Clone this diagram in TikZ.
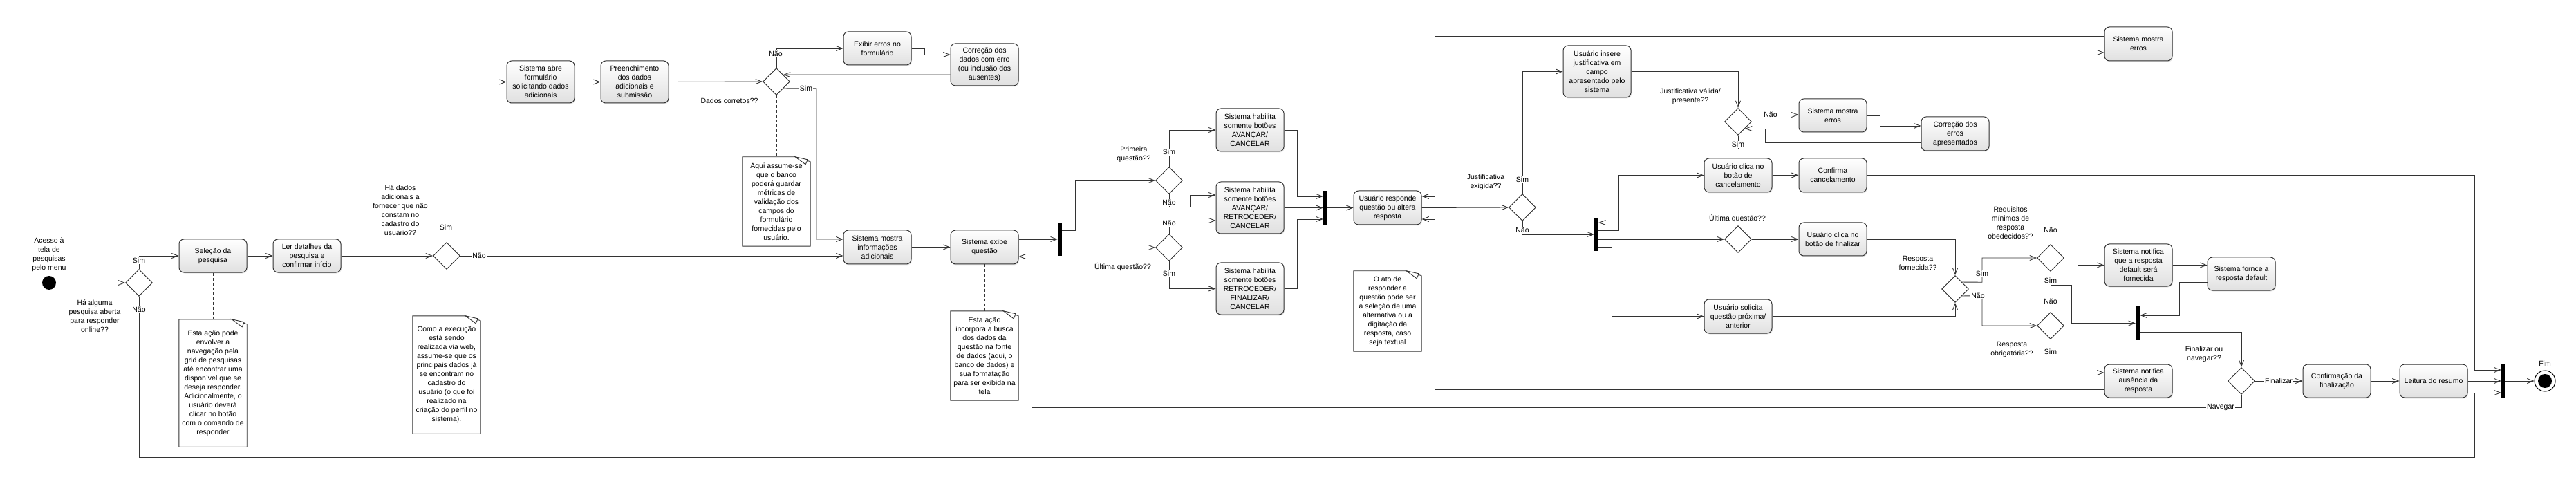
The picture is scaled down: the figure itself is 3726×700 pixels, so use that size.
\documentclass[tikz,border=0pt]{standalone}
\usepackage{fontspec}
\setmainfont{Liberation Sans}
\usetikzlibrary{arrows.meta,shapes.geometric,shadows}
\newcommand\mynote[1]{%
  \draw[notec] (#1.north west) -- ([xshift=-22pt]#1.north east) -- ([yshift=-7pt]#1.north east) -- (#1.south east) -- (#1.south west) -- cycle;
  \draw[notec,fill=white] ([xshift=-22pt]#1.north east) -- ([xshift=-4pt,yshift=-4pt]#1.north east) -- ([xshift=-7pt,yshift=-11pt]#1.north east) -- cycle;}
\begin{document}
\begin{tikzpicture}[x=1pt,y=-1pt,
  every node/.style={font=\fontsize{10.5}{13}\selectfont},
  act/.style={draw=black!80, line width=1pt, rounded corners=7pt, top color=white, bottom color=black!12, minimum width=98pt, minimum height=48pt, inner sep=1pt, align=center, drop shadow={opacity=0.18,shadow xshift=1pt,shadow yshift=-1.5pt}},
  dec/.style={diamond, draw=black!85, line width=0.9pt, fill=white, minimum width=39pt, minimum height=39pt, inner sep=0pt},
  bar/.style={fill=black, draw=none, minimum width=6pt, minimum height=48pt, inner sep=0pt},
  notebox/.style={draw=none, minimum width=98pt, inner sep=0pt, align=center},
  notec/.style={draw=black!80, line width=0.9pt},
  arr/.style={draw=black!80, line width=0.9pt, -{Straight Barb[length=9pt,width=7pt]}},
  dsh/.style={draw=black!80, line width=0.8pt, dash pattern=on 4pt off 3pt},
  lbl/.style={fill=white, inner sep=1pt, align=center},
  txt/.style={inner sep=0pt, align=center},
]
\useasboundingbox (0,0) rectangle (3726,700);

% ---------- start / end ----------
\node[circle, fill=black, minimum size=20pt, inner sep=0pt] (start) at (71,409) {};
\node[circle, draw=black, line width=1pt, fill=white, minimum size=30pt, inner sep=0pt] (fim) at (3681,551) {};
\node[circle, fill=black, minimum size=20pt, inner sep=0pt] (fimin) at (fim.center) {};

% ---------- activities ----------
\node[act] (sel) at (308,370) {Seleção da\\pesquisa};
\node[act] (ler) at (444,370) {Ler detalhes da\\pesquisa e\\confirmar início};
\node[act, minimum height=61pt] (abre) at (782,118.5) {Sistema abre\\formulário\\solicitando dados\\adicionais};
\node[act, minimum height=61pt] (pre) at (918,118.5) {Preenchimento\\dos dados\\adicionais e\\submissão};
\node[act] (exib) at (1269,70) {Exibir erros no\\formulário};
\node[act, minimum height=61pt] (corr) at (1424,93.5) {Correção dos\\dados com erro\\(ou inclusão dos\\ausentes)};
\node[act, minimum height=49pt] (info) at (1269,357.5) {Sistema mostra\\informações\\adicionais};
\node[act, minimum height=49pt] (exq) at (1424,357.5) {Sistema exibe\\questão};
\node[act, minimum height=62pt] (hA) at (1808,188) {Sistema habilita\\somente botões\\AVANÇAR/\\CANCELAR};
\node[act, minimum height=75pt] (hB) at (1808,300.5) {Sistema habilita\\somente botões\\AVANÇAR/\\RETROCEDER/\\CANCELAR};
\node[act, minimum height=75pt] (hC) at (1808,417.5) {Sistema habilita\\somente botões\\RETROCEDER/\\FINALIZAR/\\CANCELAR};
\node[act, minimum height=49pt] (resp) at (2007,300.5) {Usuário responde\\questão ou altera\\resposta};
\node[act, minimum height=75pt] (just) at (2310,103.5) {Usuário insere\\justificativa em\\campo\\apresentado pelo\\sistema};
\node[act] (err2) at (2651,167) {Sistema mostra\\erros};
\node[act, minimum height=49pt] (corr2) at (2828,193.5) {Correção dos\\erros\\apresentados};
\node[act, minimum height=49pt] (canc) at (2514,253.5) {Usuário clica no\\botão de\\cancelamento};
\node[act, minimum height=49pt] (conf) at (2651,253.5) {Confirma\\cancelamento};
\node[act] (fin) at (2651,346) {Usuário clica no\\botão de finalizar};
\node[act, minimum height=49pt] (sol) at (2514,457.5) {Usuário solicita\\questão próxima/\\anterior};
\node[act, minimum height=49pt] (err3) at (3093,63.5) {Sistema mostra\\erros};
\node[act, minimum height=61pt] (nd) at (3093,383.5) {Sistema notifica\\que a resposta\\default será\\fornecida};
\node[act] (na) at (3093,551) {Sistema notifica\\ausência da\\resposta};
\node[act] (fd) at (3242,396) {Sistema fornce a\\resposta default};
\node[act] (cf) at (3380,551) {Confirmação da\\finalização};
\node[act] (lr) at (3520,551) {Leitura do resumo};

% ---------- decisions ----------
\node[dec] (d1) at (201,409) {};
\node[dec] (d2) at (646,370) {};
\node[dec] (d3) at (1123,118) {};
\node[dec] (dPQ) at (1691,261) {};
\node[dec] (dUQ) at (1691,358) {};
\node[dec] (dJE) at (2202,300) {};
\node[dec] (dJV) at (2514,176) {};
\node[dec] (dUQ2) at (2514,346) {};
\node[dec] (dRF) at (2828,418) {};
\node[dec] (dRM) at (2966,373) {};
\node[dec] (dRO) at (2966,471) {};
\node[dec] (dFN) at (3242,551) {};

% ---------- bars ----------
\node[bar] (b1) at (1533,346) {};
\node[bar, minimum height=49pt] (b2) at (1917,300.5) {};
\node[bar] (b3) at (2309,339) {};
\node[bar, minimum height=49pt] (b4) at (3092,467.5) {};
\node[bar] (b5) at (3621,551) {};

% ---------- notes ----------
\node[notebox, minimum height=184pt] (n1) at (308,554) {Esta ação pode\\envolver a\\navegação pela\\grid de pesquisas\\até encontrar uma\\disponível que se\\deseja responder.\\Adicionalmente, o\\usuário deverá\\clicar no botão\\com o comando de\\responder};
\node[notebox, minimum height=170pt] (n2) at (646,542) {Como a execução\\está sendo\\realizada via web,\\assume-se que os\\principais dados já\\se encontram no\\cadastro do\\usuário (o que foi\\realizado na\\criação do perfil no\\sistema).};
\node[notebox, minimum height=129pt] (n3) at (1123,291.5) {Aqui assume-se\\que o banco\\poderá guardar\\métricas de\\validação dos\\campos do\\formulário\\fornecidas pelo\\usuário.};
\node[notebox, minimum height=129pt] (n4) at (1424,514.5) {Esta ação\\incorpora a busca\\dos dados da\\questão na fonte\\de dados (aqui, o\\banco de dados) e\\sua formatação\\para ser exibida na\\tela};
\node[notebox, minimum height=116pt] (n5) at (2007,450) {O ato de\\responder a\\questão pode ser\\a seleção de uma\\alternativa ou a\\digitação da\\resposta, caso\\seja textual};
\mynote{n1}\mynote{n2}\mynote{n3}\mynote{n4}\mynote{n5}
\draw[dsh] (sel.south) -- (n1.north);
\draw[dsh] (d2.south) -- (n2.north);
\draw[dsh] (d3.south) -- (n3.north);
\draw[dsh] (exq.south) -- (n4.north);
\draw[dsh] (resp.south) -- (n5.north);

% ---------- free texts ----------
\node[txt] at (71,368) {Acesso à\\tela de\\pesquisas\\pelo menu};
\node[txt] at (137,457) {Há alguma\\pesquisa aberta\\para responder\\online??};
\node[txt] at (579,304) {Há dados\\adicionais a\\fornecer que não\\constam no\\cadastro do\\usuário??};
\node[txt] at (1055,146) {Dados corretos??};
\node[txt] at (1640,223) {Primeira\\questão??};
\node[txt] at (1624,386) {Última questão??};
\node[txt] at (2149,263) {Justificativa\\exigida??};
\node[txt] at (2445,139) {Justificativa válida/\\presente??};
\node[txt] at (2513,316) {Última questão??};
\node[txt] at (2774,380) {Resposta\\fornecida??};
\node[txt] at (2908,322) {Requisitos\\mínimos de\\resposta\\obedecidos??};
\node[txt] at (2910,505) {Resposta\\obrigatória??};
\node[txt] at (3188,512) {Finalizar ou\\navegar??};
\node[txt] at (3681,526) {Fim};

% ---------- connectors ----------
\draw[arr] (start) -- (d1.west);
\draw[arr] (d1.north) |- (sel.west);
\draw[arr] (d1.south) |- (3579,661) |- ([yshift=-17pt]b5.west);
\draw[arr] (sel.east) -- (ler.west);
\draw[arr] (ler.east) -- (d2.west);
\draw[arr] (d2.north) |- (abre.west);
\draw[arr] (d2.east) -- (d2.east -| info.west);
\draw[arr] (abre.east) -- (pre.west);
\draw[arr] (pre.east) -- (d3.west);
\draw[arr] (d3.north) |- (exib.west);
\draw[arr] (d3.south east) -- (1181,127.75) |- ([yshift=11.5pt]info.west);
\draw[arr] (exib.east) -- (1337,70) |- ([yshift=14.5pt]corr.west);
\draw[arr] ([yshift=-14.5pt]corr.west) -- (d3.north east);
\draw[arr] (info.east) -- (exq.west);
\draw[arr] ([yshift=11.5pt]exq.east) -- (b1.west);
\draw[arr] (dFN.south) |- (1492,589) |- ([yshift=-13.5pt]exq.east);
\draw[arr] ([yshift=13pt]b1.east) -- (1555,333) |- (dPQ.west);
\draw[arr] ([yshift=-12pt]b1.east) -- (dUQ.west);
\draw[arr] (dPQ.north) |- (hA.west);
\draw[arr] (dPQ.south) -- (1691,299) -- (1721,299) |- ([yshift=18.5pt]hB.west);
\draw[arr] (dUQ.north) |- ([yshift=-18.5pt]hB.west);
\draw[arr] (dUQ.south) |- (hC.west);
\draw[arr] (hA.east) -- (1876,188) |- ([yshift=16.5pt]b2.west);
\draw[arr] (hB.east) -- (b2.west);
\draw[arr] (hC.east) -- (1876,417.5) |- ([yshift=-16.5pt]b2.west);
\draw[arr] (b2.east) -- (resp.west);
\draw[arr] (resp.east) -- (dJE.west);
\draw[arr] ([yshift=11.5pt]err3.west) -- (2075,52) |- ([yshift=16.5pt]resp.east);
\draw[arr] ([yshift=-12pt]na.west) -- (2075,563) |- ([yshift=-16.5pt]resp.east);
\draw[arr] (dJE.north) |- (just.west);
\draw[arr] (dJE.south) |- (b3.west);
\draw[arr] (just.east) -| (dJV.north);
\draw[arr] (dJV.north east) -- (dJV.north east -| err2.west);
\draw[arr] (err2.east) -- (2719,167) |- ([yshift=11.5pt]corr2.west);
\draw[arr] ([yshift=-12.5pt]corr2.west) -- (2553,206) |- (dJV.south east);
\draw[arr] (dJV.south) -- (2514,215) -- (2331,215) |- ([yshift=17pt]b3.east);
\draw[arr] ([yshift=6pt]b3.east) -- (2341,333) |- (canc.west);
\draw[arr] ([yshift=-7pt]b3.east) -- (dUQ2.west);
\draw[arr] ([yshift=-18pt]b3.east) -- (2331,357) |- (sol.west);
\draw[arr] (canc.east) -- (conf.west);
\draw[arr] (conf.east) -- (3579,253.5) |- ([yshift=16pt]b5.west);
\draw[arr] (dUQ2.east) -- (fin.west);
\draw[arr] (fin.east) -| (dRF.north);
\draw[arr] (sol.east) -| (dRF.south);
\draw[arr] (dRF.north east) -- (2867,408.25) |- (dRM.west);
\draw[arr] (dRF.south east) -- (2867,427.75) |- (dRO.west);
\draw[arr] (dRM.north) |- ([yshift=-12.5pt]err3.west);
\draw[arr] (dRM.south) -- (2966,412) -- (2996,412) |- (b4.west);
\draw[arr] (dRO.north) -- (2966,432) -- (3005,432) |- (nd.west);
\draw[arr] (dRO.south) |- ([yshift=12pt]na.west);
\draw[arr] (nd.east) -- (nd.east -| fd.west);
\draw[arr] ([yshift=-12pt]fd.west) -- (3152,408) |- ([yshift=11.5pt]b4.east);
\draw[arr] ([yshift=-12.5pt]b4.east) -| (dFN.north);
\draw[arr] (dFN.east) -- (cf.west);
\draw[arr] (cf.east) -- (lr.west);
\draw[arr] (lr.east) -- (b5.west);
\draw[arr] (b5.east) -- (fim.west);

% ---------- edge labels ----------
\node[lbl] at (201,377) {Sim};
\node[lbl] at (201,448) {Não};
\node[lbl] at (645,329) {Sim};
\node[lbl] at (693,370) {Não};
\node[lbl] at (1122,78) {Não};
\node[lbl] at (1166,127.75) {Sim};
\node[lbl] at (1691,220) {Sim};
\node[lbl] at (1691,293) {Não};
\node[lbl] at (1691,323) {Não};
\node[lbl] at (1691,396) {Sim};
\node[lbl] at (2202,260) {Sim};
\node[lbl] at (2202,333) {Não};
\node[lbl] at (2561,166.25) {Não};
\node[lbl] at (2514,209) {Sim};
\node[lbl] at (2867,396) {Sim};
\node[lbl] at (2861,427.75) {Não};
\node[lbl] at (2966,333) {Não};
\node[lbl] at (2966,406) {Sim};
\node[lbl] at (2966,436) {Não};
\node[lbl] at (2966,509) {Sim};
\node[lbl] at (3212,589) {Navegar};
\node[lbl] at (3296,551) {Finalizar};
\end{tikzpicture}
\end{document}
